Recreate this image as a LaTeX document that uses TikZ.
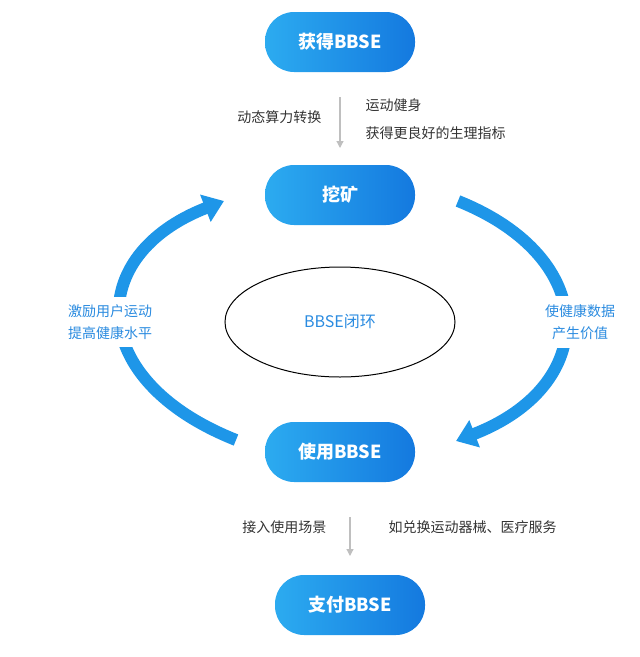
\documentclass[tikz,border=0pt]{standalone}
\usepackage{fontspec}
\setmainfont{Noto Sans CJK SC}
\usetikzlibrary{arrows.meta}
\definecolor{bblight}{HTML}{2CABF0}
\definecolor{bbdark}{HTML}{1479DF}
\definecolor{bbtext}{HTML}{2A8BE0}
\definecolor{bbarc}{HTML}{1E96E8}
\begin{document}
\begin{tikzpicture}[x=1pt, y=-1pt,
    pill/.style = {rounded corners=29pt, minimum width=150pt, minimum height=60pt, left color=bblight, right color=bbdark, draw=none, text=white, font=\fontsize{18}{20}\selectfont\bfseries},
    note/.style = {font=\fontsize{14}{16}\selectfont, text=black!80},
    side/.style = {font=\fontsize{14}{22}\selectfont, text=bbtext, align=center, fill=white, inner xsep=1pt, inner ysep=8pt},
    down/.style = {-{Triangle[length=7pt,width=7pt]}, black!25, line width=1.2pt},
    loop/.style = {line width=12pt, bbarc, -{Triangle[length=20pt,width=28pt]}}]
    \useasboundingbox (0,0) rectangle (640,657);
    \node[pill] (get) at (340,42) {获得BBSE};
    \node[pill] (mine) at (340,195) {挖矿};
    \node[pill] (use) at (340,452) {使用BBSE};
    \node[pill] (pay) at (350,605) {支付BBSE};
    \draw[down] (340,97) -- (mine.north |- 0,148);
    \node[note, anchor=east] (conv) at (325,117) {动态算力转换};
    \node[note, anchor=west] (sport) at (362,105) {运动健身};
    \node[note, anchor=west] (index) at (362,133) {获得更良好的生理指标};
    \draw[down] (350,517) -- (350,556);
    \node[note, anchor=east] (scene) at (330,527) {接入使用场景};
    \node[note, anchor=west] (serve) at (385,527) {如兑换运动器械、医疗服务};
    \draw[black, line width=1pt] (340,322) ellipse (115 and 55);
    \node[text=bbtext, font=\fontsize{16}{18}\selectfont] (loopname) at (340,322) {BBSE闭环};
    % the two big arcs
    \coordinate (la) at (236,440);
    \coordinate (lb) at (224,201);
    \coordinate (ra) at (458,201);
    \coordinate (rb) at (456,441);
    \draw[loop] (la) .. controls (85,380) and (85,255) .. (lb);
    \draw[loop] (ra) .. controls (600,258) and (600,385) .. (rb);
    \node[side] (leftnote) at (110,322) {激励用户运动\\提高健康水平};
    \node[side] (rightnote) at (580,322) {使健康数据\\产生价值};
\end{tikzpicture}
\end{document}
